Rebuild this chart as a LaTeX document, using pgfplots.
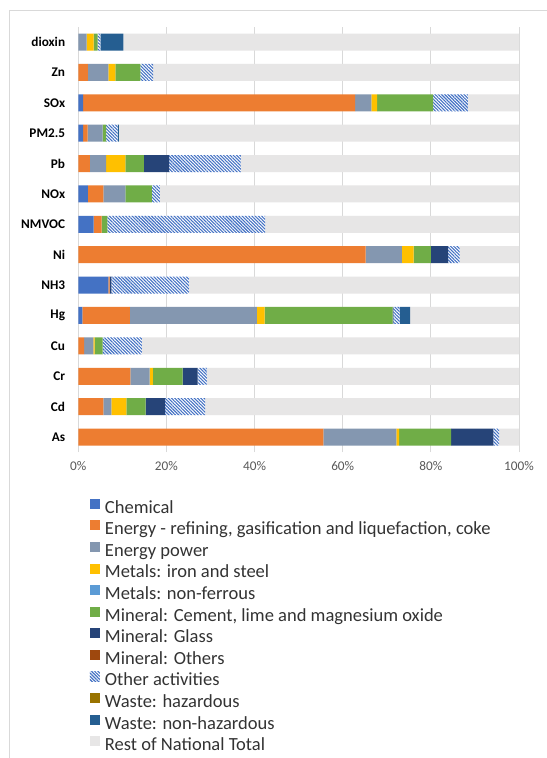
\documentclass[border=0pt]{standalone}
\usepackage{fontspec}
\setmainfont{Carlito}
\usepackage{pgfplots}
\usepackage{pgfplotstable}
\pgfplotsset{compat=1.18}
\usetikzlibrary{patterns.meta}
\definecolor{cchem}{HTML}{4472C4}
\definecolor{cenref}{HTML}{ED7D31}
\definecolor{cenpow}{HTML}{8497B0}
\definecolor{ciron}{HTML}{FFC000}
\definecolor{cnonfer}{HTML}{5B9BD5}
\definecolor{ccement}{HTML}{70AD47}
\definecolor{cglass}{HTML}{264478}
\definecolor{cmothers}{HTML}{9E480E}
\definecolor{cwhaz}{HTML}{997300}
\definecolor{cwnhaz}{HTML}{255E91}
\definecolor{crest}{HTML}{E7E6E6}
\definecolor{cgrid}{HTML}{D9D9D9}
\definecolor{ctick}{HTML}{595959}
\definecolor{ctext}{HTML}{333333}

\pgfplotstableread{
y chem enref enpow iron nonfer cement glass mothers other whaz wnhaz rest
0  0    55.6 16.6 0.6 0 11.8 9.6 0   1.3  0 0   4.5
1  0    5.7  1.8  3.4 0 4.4  4.4 0   9.1  0 0   71.2
2  0    11.8 4.4  0.7 0 6.8  3.4 0   2.1  0 0   70.8
3  0    1.3  2.1  0.3 0 1.8  0   0   8.9  0 0   85.6
4  0.9  10.8 28.8 1.8 0 29.0 0.2 0   1.4  0 2.4 24.7
5  6.8  0.3  0    0   0 0    0.4 0   17.6 0 0   74.9
6  0    65.2 8.2  2.7 0 3.9  3.9 0   2.6  0 0   13.5
7  3.5  1.8  0    0   0 1.3  0   0   35.8 0 0   57.6
8  2.2  3.5  5.0  0   0 6.0  0   0   1.8  0 0   81.5
9  0    2.6  3.7  4.4 0 4.2  5.7 0   16.3 0 0   63.1
10 1.1  1.0  3.4  0   0 0.8  0   0   2.6  0 0.3 90.8
11 1.1  61.7 3.7  1.3 0 12.7 0   0   7.9  0 0   11.6
12 0    2.2  4.6  1.6 0 5.7  0   0   2.9  0 0   83.0
13 0    0    1.9  1.6 0 0.9  0   0   0.6  0 5.2 89.8
}\data

\begin{document}
\begin{tikzpicture}
\useasboundingbox (0,0) rectangle (547bp,758bp);
\fill[white] (0,0) rectangle (547bp,758bp);
\draw[cgrid, line width=0.8bp] (9bp,0) -- (9bp,748bp) -- (547bp,748bp);
\begin{axis}[
  at={(78.3bp,305.8bp)}, anchor=south west,
  scale only axis,
  width=440.7bp, height=425.3bp,
  xbar stacked, bar width=17bp,
  xmin=0, xmax=100, ymin=-0.5, ymax=13.5,
  xtick={0,20,40,60,80,100},
  xticklabels={0\%,20\%,40\%,60\%,80\%,100\%},
  ytick={0,...,13},
  yticklabels={As,Cd,Cr,Cu,Hg,NH3,Ni,NMVOC,NOx,Pb,PM2.5,SOx,Zn,dioxin},
  major tick length=0pt,
  xmajorgrids, grid style={cgrid, line width=0.8bp},
  axis line style={draw=none},
  xticklabel style={font=\fontsize{13.3}{16}\selectfont, text=ctick, inner sep=0pt, yshift=-9bp},
  yticklabel style={font=\bfseries\fontsize{13.3}{16}\selectfont, text=black, inner sep=0pt, xshift=-13bp},
  every axis plot/.append style={draw=none},
  legend cell align=left,
  legend image code/.code={\path[#1, draw=none] (0bp,-0.2bp) rectangle (10bp,9.8bp);},
  legend style={draw=none, fill=none, inner sep=0pt, outer sep=0pt,
    at={(0.0265,-0.1095)}, anchor=north west,
    row sep=4.3bp, column sep=0pt,
    font=\fontsize{18.6}{21}\selectfont, text=ctext,
    nodes={inner sep=0pt, text height=12bp, text depth=3bp},
  },
  legend style={/tikz/every odd column/.append style={column sep=5bp}},
]
\addplot[fill=cchem] table[x=chem,y=y]{\data};
\addlegendentry{Chemical}
\addplot[fill=cenref] table[x=enref,y=y]{\data};
\addlegendentry{Energy - refining, gasification and liquefaction, coke}
\addplot[fill=cenpow] table[x=enpow,y=y]{\data};
\addlegendentry{Energy power}
\addplot[fill=ciron] table[x=iron,y=y]{\data};
\addlegendentry{Metals: iron and steel}
\addplot[fill=cnonfer] table[x=nonfer,y=y]{\data};
\addlegendentry{Metals: non-ferrous}
\addplot[fill=ccement] table[x=cement,y=y]{\data};
\addlegendentry{Mineral: Cement, lime and magnesium oxide}
\addplot[fill=cglass] table[x=glass,y=y]{\data};
\addlegendentry{Mineral: Glass}
\addplot[fill=cmothers] table[x=mothers,y=y]{\data};
\addlegendentry{Mineral: Others}
\addplot[fill=white, postaction={pattern={Lines[angle=-45,distance=2.3pt,line width=1.1pt]}, pattern color=cchem}] table[x=other,y=y]{\data};
\addlegendentry{Other activities}
\addplot[fill=cwhaz] table[x=whaz,y=y]{\data};
\addlegendentry{Waste: hazardous}
\addplot[fill=cwnhaz] table[x=wnhaz,y=y]{\data};
\addlegendentry{Waste: non-hazardous}
\addplot[fill=crest] table[x=rest,y=y]{\data};
\addlegendentry{Rest of National Total}
\end{axis}
\end{tikzpicture}
\end{document}
